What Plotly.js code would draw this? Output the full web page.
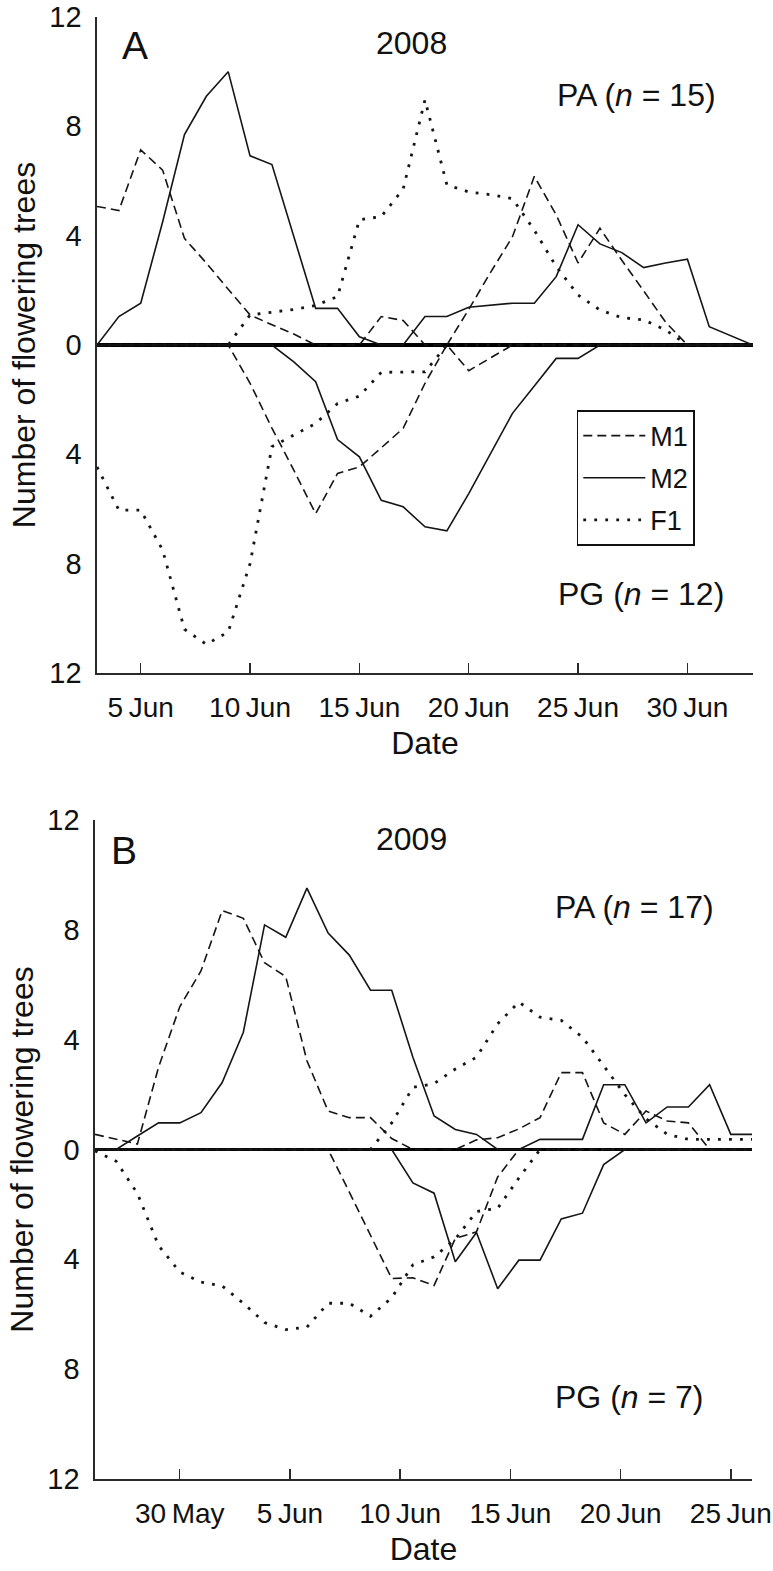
<!DOCTYPE html>
<html>
<head>
<meta charset="utf-8">
<script src="https://cdn.plot.ly/plotly-3.0.1.min.js"></script>
<style>
  html, body { margin: 0; padding: 0; background: #ffffff; }
  #chart { width: 773px; height: 1571px; }
</style>
</head>
<body>
<div id="chart"></div>
<script>
// ---------------- DATA ----------------
// Panel A (2008): one value per day, 3 Jun 2008 .. 3 Jul 2008
var startA = '2008-06-03';
// PA (top half): number of flowering trees
var paM1_2008 = [5.07, 4.92, 7.14, 6.4, 3.9, 3.0, 2.04, 1.1, 0.74, 0.4, 0, 0, 0, 1.04, 0.9, 0, 0, 1.3, 2.66, 3.96, 6.17, 4.76, 3.0, 4.27, 3.1, 1.98, 0.84, 0, 0, 0, 0];
var paM2_2008 = [0, 1.04, 1.53, 4.5, 7.7, 9.1, 10.0, 6.92, 6.6, 4.0, 1.34, 1.34, 0.3, 0, 0, 1.04, 1.04, 1.38, 1.45, 1.53, 1.53, 2.5, 4.4, 3.7, 3.38, 2.83, 3.0, 3.14, 0.67, 0.33, 0];
var paF1_2008 = [0, 0, 0, 0, 0, 0, 0, 1.1, 1.2, 1.3, 1.45, 1.77, 4.58, 4.7, 5.7, 8.97, 5.86, 5.6, 5.5, 5.35, 4.2, 2.87, 1.83, 1.28, 1.0, 0.92, 0.55, 0, 0, 0, 0];
// PG (bottom half): number of flowering trees (drawn downwards)
var pgM1_2008 = [0, 0, 0, 0, 0, 0, 0, 1.4, 3.04, 4.58, 6.17, 4.7, 4.46, 3.76, 3.05, 1.4, 0, 0.94, 0.46, 0, 0, 0, 0, 0, 0, 0, 0, 0, 0, 0, 0];
var pgM2_2008 = [0, 0, 0, 0, 0, 0, 0, 0, 0, 0.62, 1.34, 3.46, 4.09, 5.68, 5.92, 6.65, 6.8, 5.44, 3.97, 2.5, 1.5, 0.49, 0.49, 0, 0, 0, 0, 0, 0, 0, 0];
var pgF1_2008 = [4.46, 6.04, 6.04, 7.5, 10.4, 10.95, 10.5, 8.0, 3.72, 3.3, 2.87, 2.14, 1.87, 1.0, 1.0, 0.98, 0, 0, 0, 0, 0, 0, 0, 0, 0, 0, 0, 0, 0, 0, 0];

// Panel B (2009): one value per day, 26 May 2009 .. 26 Jun 2009
var startB = '2009-05-26';
var paM1_2009 = [0.55, 0.38, 0.2, 3.0, 5.2, 6.5, 8.7, 8.42, 6.8, 6.3, 3.23, 1.4, 1.16, 1.16, 0.4, 0, 0, 0, 0.35, 0.43, 0.75, 1.16, 2.8, 2.8, 0.97, 0.55, 1.4, 1.04, 0.97, 0, 0, 0];
var paM2_2009 = [0, 0, 0.49, 0.97, 0.97, 1.34, 2.44, 4.27, 8.18, 7.73, 9.52, 7.88, 7.08, 5.8, 5.8, 3.36, 1.22, 0.73, 0.55, 0, 0, 0.37, 0.37, 0.37, 2.36, 2.36, 0.97, 1.55, 1.55, 2.36, 0.55, 0.55];
var paF1_2009 = [0, 0, 0, 0, 0, 0, 0, 0, 0, 0, 0, 0, 0, 0, 0.97, 2.26, 2.4, 2.93, 3.36, 4.58, 5.37, 4.82, 4.7, 4.09, 3.05, 2.0, 1.12, 0.55, 0.37, 0.37, 0.37, 0.37];
var pgM1_2009 = [0, 0, 0, 0, 0, 0, 0, 0, 0, 0, 0, 0, 1.55, 3.13, 4.7, 4.67, 4.95, 3.24, 3.0, 1.0, 0, 0, 0, 0, 0, 0, 0, 0, 0, 0, 0, 0];
var pgM2_2009 = [0, 0, 0, 0, 0, 0, 0, 0, 0, 0, 0, 0, 0, 0, 0, 1.22, 1.59, 4.09, 3.02, 5.07, 4.03, 4.03, 2.53, 2.32, 0.55, 0, 0, 0, 0, 0, 0, 0];
var pgF1_2009 = [0.05, 0.43, 1.6, 3.5, 4.46, 4.83, 4.97, 5.6, 6.3, 6.56, 6.47, 5.6, 5.6, 6.07, 5.4, 4.2, 3.91, 3.26, 2.26, 2.14, 1.04, 0, 0, 0, 0, 0, 0, 0, 0, 0, 0, 0];

// Axis ticks
var yTickVals = [-12, -8, -4, 0, 4, 8, 12];
var yTickText = ['12', '8', '4', '0', '4', '8', '12'];
var xTickValsA = ['2008-06-05', '2008-06-10', '2008-06-15', '2008-06-20', '2008-06-25', '2008-06-30'];
var xTickTextA = ['5\u2009Jun', '10\u2009Jun', '15\u2009Jun', '20\u2009Jun', '25\u2009Jun', '30\u2009Jun'];
// the reference draws its 2009 ticks evenly between 30 May and 25 Jun
var xTickValsB = ['2009-05-30', '2009-06-04 04:48', '2009-06-09 09:36', '2009-06-14 14:24', '2009-06-19 19:12', '2009-06-25'];
var xTickTextB = ['30\u2009May', '5\u2009Jun', '10\u2009Jun', '15\u2009Jun', '20\u2009Jun', '25\u2009Jun'];

// ---------------- HELPERS ----------------
function dailyDates(start, n) {
  var out = [];
  var d = new Date(start + 'T00:00:00Z');
  for (var i = 0; i < n; i++) {
    var t = new Date(d.getTime() + i * 86400000);
    out.push(t.toISOString().slice(0, 10));
  }
  return out;
}
function neg(arr) { return arr.map(function (v) { return -v; }); }

var datesA = dailyDates(startA, paM1_2008.length);
var datesB = dailyDates(startB, paM1_2009.length);

var INK = '#151515';
var styles = {
  M1: { color: INK, width: 1.6, dash: '9px,5px' },
  M2: { color: INK, width: 1.6, dash: 'solid' },
  F1: { color: INK, width: 2.8, dash: '2.8px,8.2px' }
};

function tr(x, y, xa, ya, key, show) {
  return {
    type: 'scatter', mode: 'lines', x: x, y: y, xaxis: xa, yaxis: ya,
    name: key, legendgroup: key, showlegend: show,
    line: styles[key], hoverinfo: 'skip'
  };
}

var data = [
  tr(datesA, paM1_2008, 'x', 'y', 'M1', true),
  tr(datesA, paM2_2008, 'x', 'y', 'M2', true),
  tr(datesA, paF1_2008, 'x', 'y', 'F1', true),
  tr(datesA, neg(pgM1_2008), 'x', 'y', 'M1', false),
  tr(datesA, neg(pgM2_2008), 'x', 'y', 'M2', false),
  tr(datesA, neg(pgF1_2008), 'x', 'y', 'F1', false),
  tr(datesB, paM1_2009, 'x2', 'y2', 'M1', false),
  tr(datesB, paM2_2009, 'x2', 'y2', 'M2', false),
  tr(datesB, paF1_2009, 'x2', 'y2', 'F1', false),
  tr(datesB, neg(pgM1_2009), 'x2', 'y2', 'M1', false),
  tr(datesB, neg(pgM2_2009), 'x2', 'y2', 'M2', false),
  tr(datesB, neg(pgF1_2009), 'x2', 'y2', 'F1', false)
];

// ---------------- LAYOUT ----------------
var W = 773, H = 1571;
var M = { l: 95, r: 20, t: 17, b: 92 };
var PW = W - M.l - M.r, PH = H - M.t - M.b;
function px(x) { return (x - M.l) / PW; }
function py(y) { return 1 - (y - M.t) / PH; }

var FONT = 'Liberation Sans, Arial, Helvetica, sans-serif';
var AXC = '#2a2a2a';

function xAxis(domain, anchor, range, tv, tt) {
  return {
    type: 'date', domain: domain, anchor: anchor, range: range,
    tickmode: 'array', tickvals: tv, ticktext: tt,
    ticks: 'inside', ticklen: 10, tickwidth: 1.4, tickcolor: AXC,
    showline: true, linecolor: AXC, linewidth: 1.6,
    showgrid: false, zeroline: false, fixedrange: true,
    tickfont: { family: FONT, size: 28, color: '#111' },
    ticklabelstandoff: 9, ticklabeloverflow: 'allow',
    title: { text: 'Date', font: { family: FONT, size: 32, color: '#111' }, standoff: 9 }
  };
}
// main y axis: labels, line, zero line; its (invisible) outside ticks keep the labels clear of the axis
function yAxis(domain, anchor) {
  return {
    domain: domain, anchor: anchor, range: [-12, 12],
    tickmode: 'array', tickvals: yTickVals, ticktext: yTickText,
    ticks: 'outside', ticklen: 8, tickwidth: 1, tickcolor: 'rgba(0,0,0,0)',
    showline: true, linecolor: AXC, linewidth: 1.6,
    showgrid: false, zeroline: true, zerolinecolor: '#000', zerolinewidth: 3.5,
    fixedrange: true,
    tickfont: { family: FONT, size: 29, color: '#111' },
    ticklabeloverflow: 'allow',
    title: { text: 'Number of flowering trees', font: { family: FONT, size: 32, color: '#111' }, standoff: 4 }
  };
}
// companion axis drawing the inward tick marks
function yTicksAxis(over, anchor) {
  return {
    overlaying: over, anchor: anchor, side: 'left', range: [-12, 12],
    tickmode: 'array', tickvals: yTickVals,
    ticks: 'inside', ticklen: 10, tickwidth: 1.4, tickcolor: AXC,
    showticklabels: false, showline: false, showgrid: false, zeroline: false,
    fixedrange: true
  };
}

function ann(text, x, y, size) {
  return {
    text: text, xref: 'paper', yref: 'paper', x: px(x), y: py(y),
    xanchor: 'center', yanchor: 'middle', showarrow: false,
    font: { family: FONT, size: size, color: '#111' }
  };
}

var layout = {
  width: W, height: H, margin: M,
  paper_bgcolor: '#ffffff', plot_bgcolor: '#ffffff',
  showlegend: true,
  xaxis: xAxis([px(97), px(753)], 'y', ['2008-06-03', '2008-07-03'], xTickValsA, xTickTextA),
  yaxis: yAxis([py(673), py(17)], 'x'),
  xaxis2: xAxis([px(95), px(752)], 'y2', ['2009-05-26', '2009-06-26'], xTickValsB, xTickTextB),
  yaxis2: yAxis([py(1479), py(820)], 'x2'),
  yaxis3: yTicksAxis('y', 'x'),
  yaxis4: yTicksAxis('y2', 'x2'),
  legend: {
    x: px(576.7), y: py(410), xanchor: 'left', yanchor: 'top',
    bordercolor: '#111', borderwidth: 1.6, bgcolor: '#ffffff',
    font: { family: FONT, size: 27, color: '#111' },
    itemwidth: 62, tracegroupgap: 4, traceorder: 'grouped'
  },
  annotations: [
    ann('A', 134.5, 45.8, 39),
    ann('2008', 411.5, 43.3, 32),
    ann('PA (<i>n</i> = 15)', 636, 94.7, 32),
    ann('PG (<i>n</i> = 12)', 640.5, 593.5, 32),
    ann('B', 124.2, 850.8, 39),
    ann('2009', 411.5, 839.2, 32),
    ann('PA (<i>n</i> = 17)', 634.2, 907, 32),
    ann('PG (<i>n</i> = 7)', 629.7, 1396.7, 32)
  ]
};

Plotly.newPlot('chart', data, layout, { staticPlot: true, displayModeBar: false });
</script>
</body>
</html>
